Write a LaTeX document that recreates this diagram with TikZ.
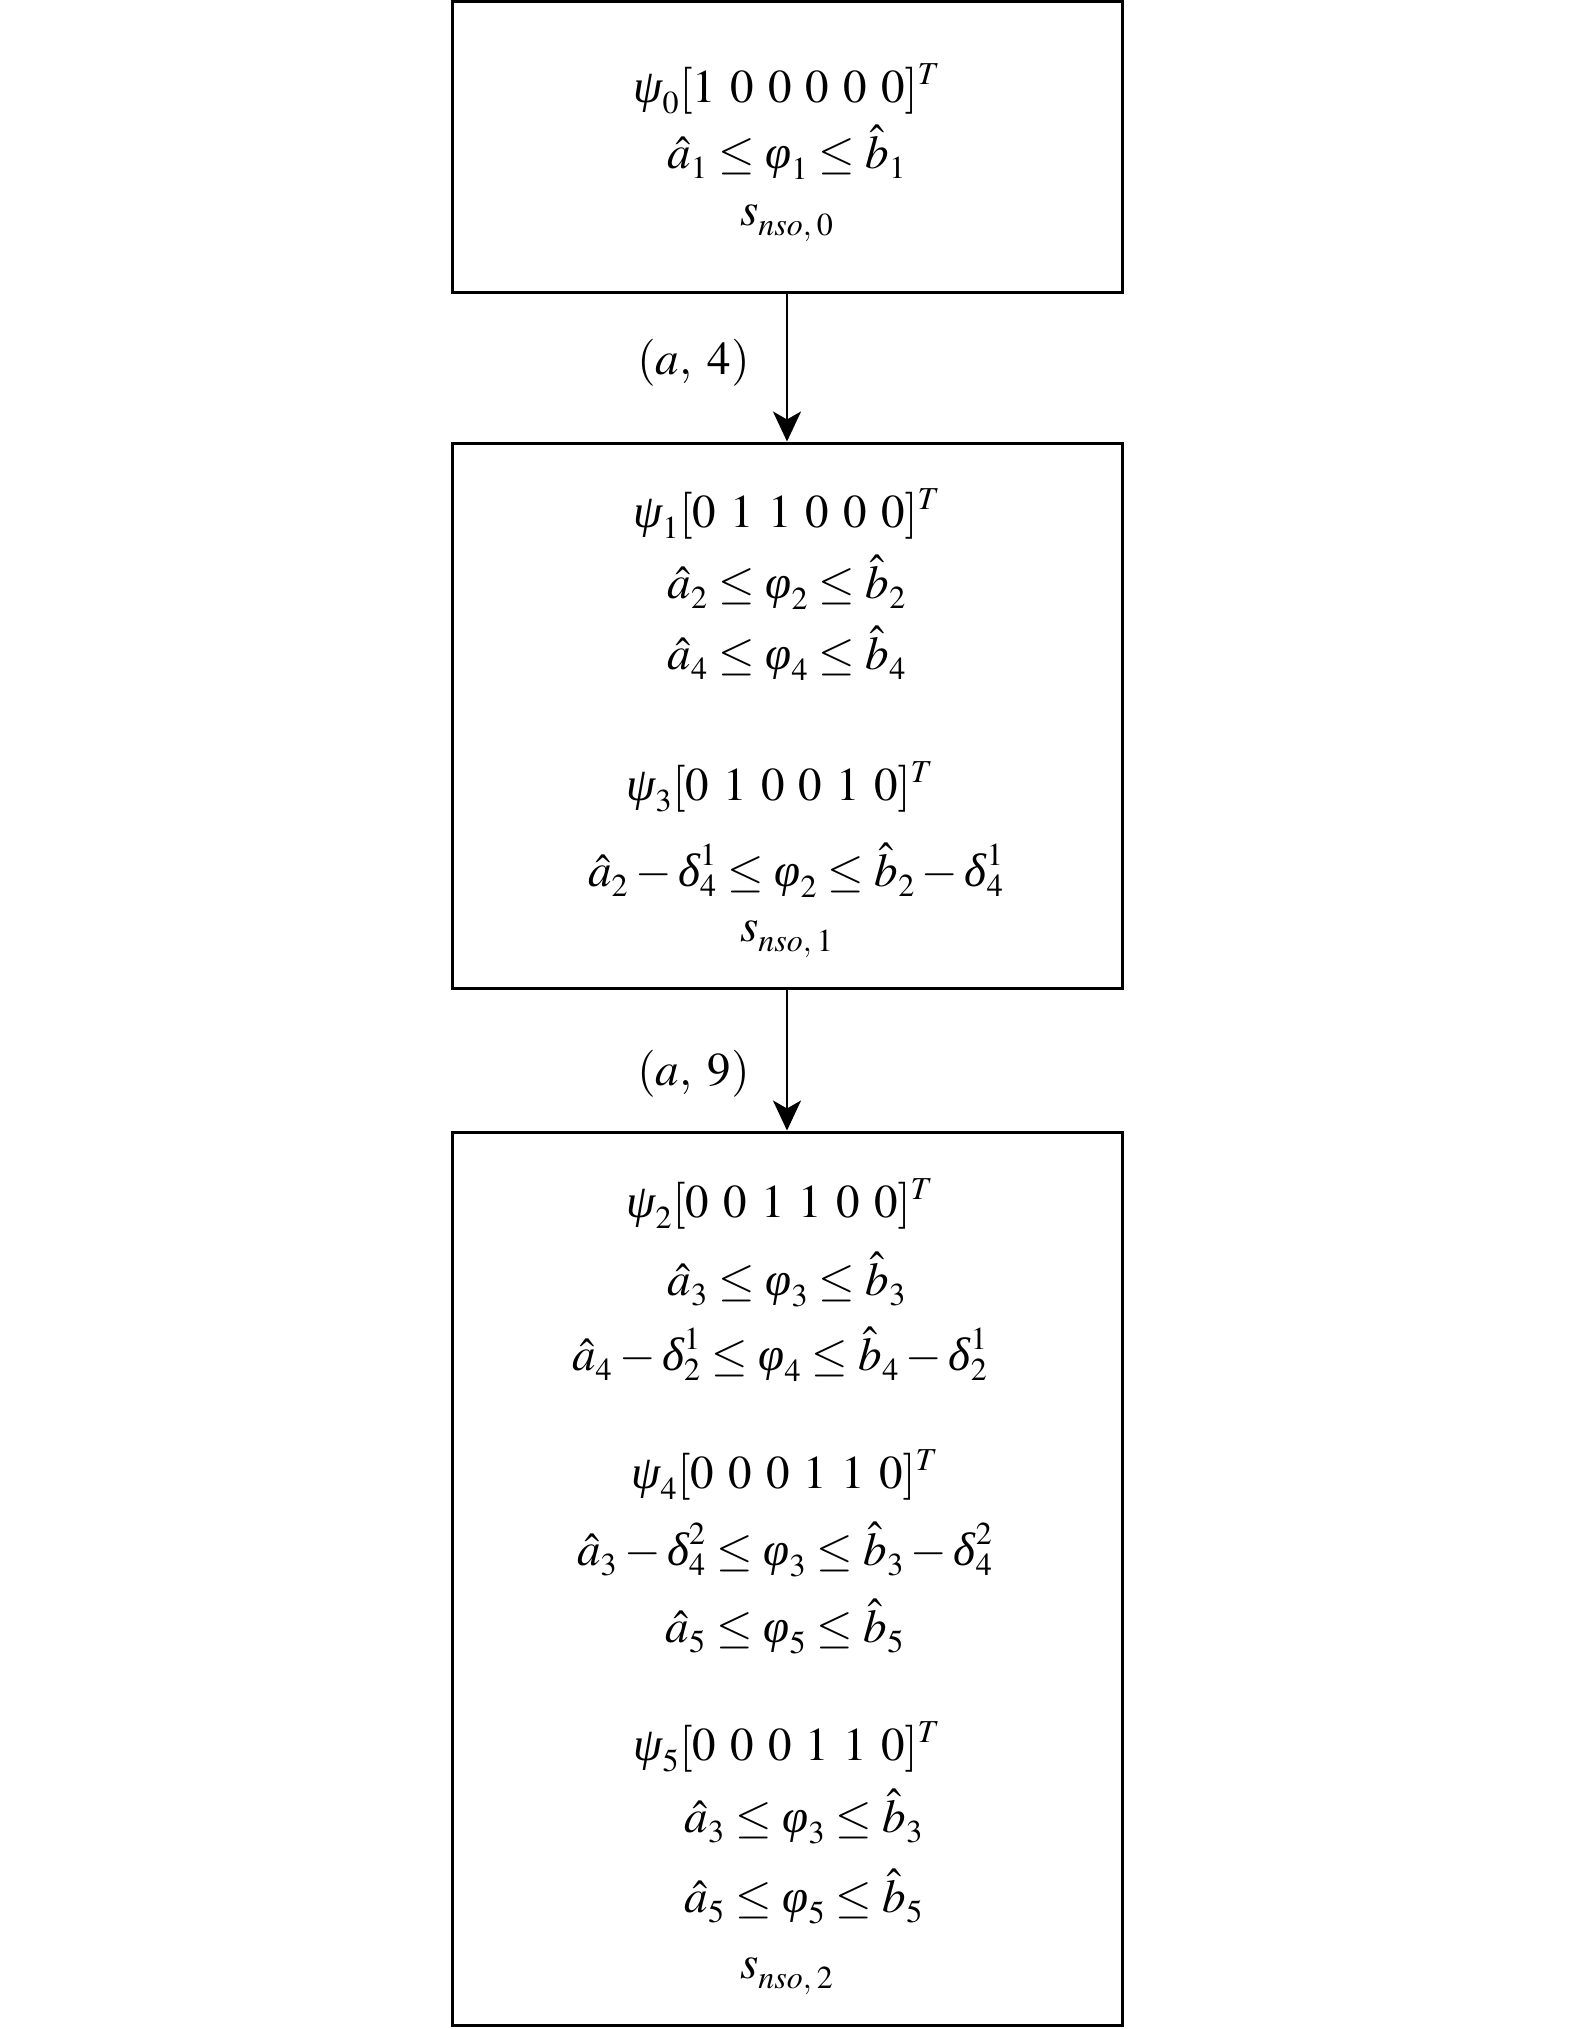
\documentclass[tikz,border=0pt]{standalone}
\usepackage{mathptmx}
\usepackage[no-math]{fontspec}
\newfontfamily\grfont{Liberation Serif}
\usetikzlibrary{arrows.meta}

\DeclareMathSizes{23.5}{23.5}{16}{11}
\everymath{\fontdimen16\textfont2=5pt \fontdimen17\textfont2=5pt}
\newcommand\gk[1]{\mbox{\grfont\itshape #1}}

\tikzset{
  statebox/.style={draw, line width=1.5pt, minimum width=335pt, inner sep=0pt},
  term/.style={anchor=base, inner sep=0pt},
  flow/.style={line width=1.35pt, -{Stealth[length=15pt, width=14pt, inset=4pt]}}
}

\begin{document}
\begin{tikzpicture}[x=0.5pt, y=-0.5pt, font=\fontsize{23.5}{28}\selectfont]
    \useasboundingbox (0,0) rectangle (1575,2029);

    % state boxes
    \node[statebox, minimum height=145.25pt] (s0) at (787,146.75) {};
    \node[statebox, minimum height=272.5pt] (s1) at (787,715.5) {};
    \node[statebox, minimum height=446.75pt] (s2) at (787,1578.75) {};

    % first state
    \node[term] (p0) at (787,102) {$\gk{ψ}_0[1\ 0\ 0\ 0\ 0\ 0]^T$};
    \node[term] (c0) at (787,168) {$\hat{a}_1 \le \gk{φ}_1 \le \hat{b}_1$};
    \node[term] (n0) at (787,225) {$s_{nso,\kern2.5pt 0}$};

    % second state
    \node[term] (p1) at (787,527) {$\gk{ψ}_1[0\ 1\ 1\ 0\ 0\ 0]^T$};
    \node[term] (c1a) at (787,598) {$\hat{a}_2 \le \gk{φ}_2 \le \hat{b}_2$};
    \node[term] (c1b) at (787,669) {$\hat{a}_4 \le \gk{φ}_4 \le \hat{b}_4$};
    \node[term] (p3) at (780,800) {$\gk{ψ}_3[0\ 1\ 0\ 0\ 1\ 0]^T$};
    \node[term] (c3) at (796,886) {$\hat{a}_2 - \gk{δ}_4^1 \le \gk{φ}_2 \le \hat{b}_2 - \gk{δ}_4^1$};
    \node[term] (n1) at (787,941) {$s_{nso,\kern2.5pt 1}$};

    % third state
    \node[term] (p2) at (780,1217) {$\gk{ψ}_2[0\ 0\ 1\ 1\ 0\ 0]^T$};
    \node[term] (c2a) at (787,1295) {$\hat{a}_3 \le \gk{φ}_3 \le \hat{b}_3$};
    \node[term] (c2b) at (780,1370) {$\hat{a}_4 - \gk{δ}_2^1 \le \gk{φ}_4 \le \hat{b}_4 - \gk{δ}_2^1$};
    \node[term] (p4) at (785,1488) {$\gk{ψ}_4[0\ 0\ 0\ 1\ 1\ 0]^T$};
    \node[term] (c4a) at (785,1565) {$\hat{a}_3 - \gk{δ}_4^2 \le \gk{φ}_3 \le \hat{b}_3 - \gk{δ}_4^2$};
    \node[term] (c4b) at (785,1642) {$\hat{a}_5 \le \gk{φ}_5 \le \hat{b}_5$};
    \node[term] (p5) at (787,1760) {$\gk{ψ}_5[0\ 0\ 0\ 1\ 1\ 0]^T$};
    \node[term] (c5a) at (804,1832) {$\hat{a}_3 \le \gk{φ}_3 \le \hat{b}_3$};
    \node[term] (c5b) at (804,1912) {$\hat{a}_5 \le \gk{φ}_5 \le \hat{b}_5$};
    \node[term] (n2) at (787,1978) {$s_{nso,\kern2.5pt 2}$};

    % transitions
    \node[term, anchor=base east] (l1) at (750,374) {$(a,\;4)$};
    \node[term, anchor=base east] (l2) at (750,1085) {$(a,\;9)$};

    \draw [flow] (s0) -- (s1);
    \draw [flow] (s1) -- (s2);
  \end{tikzpicture}
\end{document}
